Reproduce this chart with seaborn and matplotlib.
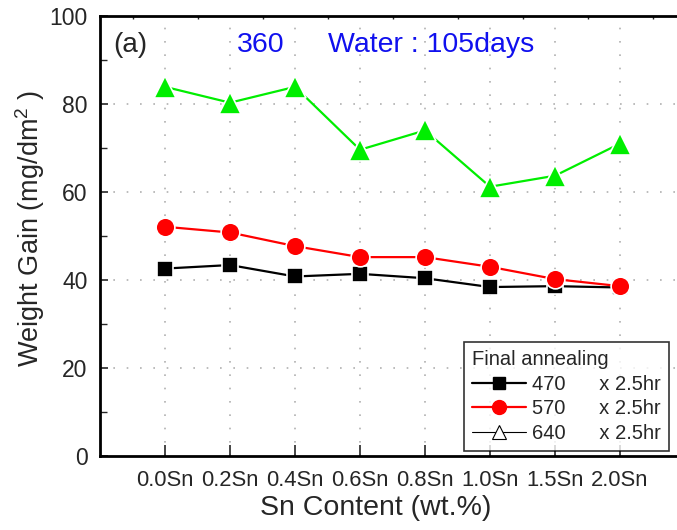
import matplotlib
matplotlib.use("Agg")
import matplotlib.pyplot as plt
import seaborn as sns
import pandas as pd
from matplotlib.lines import Line2D
from matplotlib.ticker import MultipleLocator

categories = ["0.0Sn", "0.2Sn", "0.4Sn", "0.6Sn", "0.8Sn", "1.0Sn", "1.5Sn", "2.0Sn"]
gain_470 = [42.6, 43.4, 40.8, 41.4, 40.4, 38.4, 38.6, 38.3]
gain_570 = [52.1, 50.8, 47.7, 45.2, 45.2, 43.0, 40.2, 38.6]
gain_640 = [83.9, 80.3, 83.9, 69.6, 74.0, 61.2, 63.7, 71.0]
legend_labels = ["470", "570", "640"]

sns.set_style("white")
plt.rcParams["font.family"] = ["Liberation Sans", "DejaVu Sans"]
plt.rcParams["mathtext.fontset"] = "custom"
plt.rcParams["mathtext.rm"] = "Liberation Sans"
plt.rcParams["mathtext.default"] = "regular"

fig = plt.figure(figsize=(6.77, 5.30), dpi=100)
ax = fig.add_axes([100/677, 1-456/530, 1-100/677, 440/530])

pos = list(range(len(categories)))
df = pd.DataFrame({"pos": pos, "g470": gain_470, "g570": gain_570, "g640": gain_640})

# grid
for p in pos:
    ax.axvline(p, color="#b0b0b0", lw=1.2, ls=(0, (1, 7)), zorder=0)
for yv in [20, 40, 60, 80]:
    ax.axhline(yv, color="#b0b0b0", lw=1.2, ls=(0, (1, 7)), zorder=0)

sns.lineplot(data=df, x="pos", y="g470", ax=ax, color="black", lw=1.6,
             marker="s", markersize=11.5, markeredgecolor="white", markeredgewidth=1.2, zorder=3)
sns.lineplot(data=df, x="pos", y="g570", ax=ax, color="#ff0000", lw=1.6,
             marker="o", markersize=13.5, markeredgecolor="white", markeredgewidth=1.2, zorder=4)
sns.lineplot(data=df, x="pos", y="g640", ax=ax, color="#00ee00", lw=1.6,
             marker="^", markersize=15.5, markeredgecolor="white", markeredgewidth=1.2, zorder=5)

ax.set_xlim(-1, (677-165)/65)
ax.set_ylim(0, 100)
ax.set_xticks(pos)
ax.set_xticklabels(categories, fontsize=15.8)
ax.yaxis.set_major_locator(MultipleLocator(20))
ax.yaxis.set_minor_locator(MultipleLocator(10))
ax.tick_params(axis="y", which="major", direction="in", length=6, width=1.2, labelsize=16.5, left=True, pad=9)
ax.tick_params(axis="y", which="minor", direction="in", length=5, width=1.0, left=True)
ax.tick_params(axis="x", which="major", direction="in", length=8, width=1.2, bottom=True, pad=10)
ax.xaxis.set_minor_locator(MultipleLocator(0.5))
ax.tick_params(axis="x", which="minor", bottom=False, top=True, direction="in", length=2.5, width=1.0)

for s in ["left", "bottom", "top"]:
    ax.spines[s].set_linewidth(2)
    ax.spines[s].set_color("black")
ax.spines["right"].set_visible(False)

ax.set_xlabel("Sn Content (wt.%)", fontsize=20.5)
ax.xaxis.set_label_coords((376-100)/577, (456-508)/440)
ax.xaxis.label.set_va("center")
ax.set_ylabel("Weight Gain (mg/dm$^2$ )", fontsize=19.5)
ax.yaxis.set_label_coords((30-100)/577, (456-228)/440)
ax.yaxis.label.set_va("center")

ax.text(13/577, 0.935, "(a)", transform=ax.transAxes, fontsize=20, va="center", ha="left")
ax.text(137/577, 0.935, "360", transform=ax.transAxes, fontsize=20.5, va="center", ha="left", color="#1010ee")
ax.text(228/577, 0.935, "Water : 105days", transform=ax.transAxes, fontsize=20.5, va="center", ha="left", color="#1010ee")

handles = [
    Line2D([], [], color="black", lw=1.6, marker="s", markersize=9, markeredgecolor="black"),
    Line2D([], [], color="#ff0000", lw=1.6, marker="o", markersize=10, markeredgecolor="#ff0000"),
    Line2D([], [], color="black", lw=0.8, marker="^", markersize=10, markerfacecolor="white", markeredgecolor="black", markeredgewidth=0.8),
]
labels = [f"{l}      x 2.5hr" for l in legend_labels]
leg = ax.legend(handles, labels, title="Final annealing", loc="lower right",
                bbox_to_anchor=((669-100)/577, (456-451)/440), borderaxespad=0,
                fontsize=14.5, title_fontsize=14.5,
                frameon=True, fancybox=False, edgecolor="black", handlelength=2.7,
                handletextpad=0.3, labelspacing=0.28, borderpad=0.4, alignment="left")
leg.get_frame().set_linewidth(1.2)
leg.set_zorder(10)

fig.savefig("out.png", dpi=100)
